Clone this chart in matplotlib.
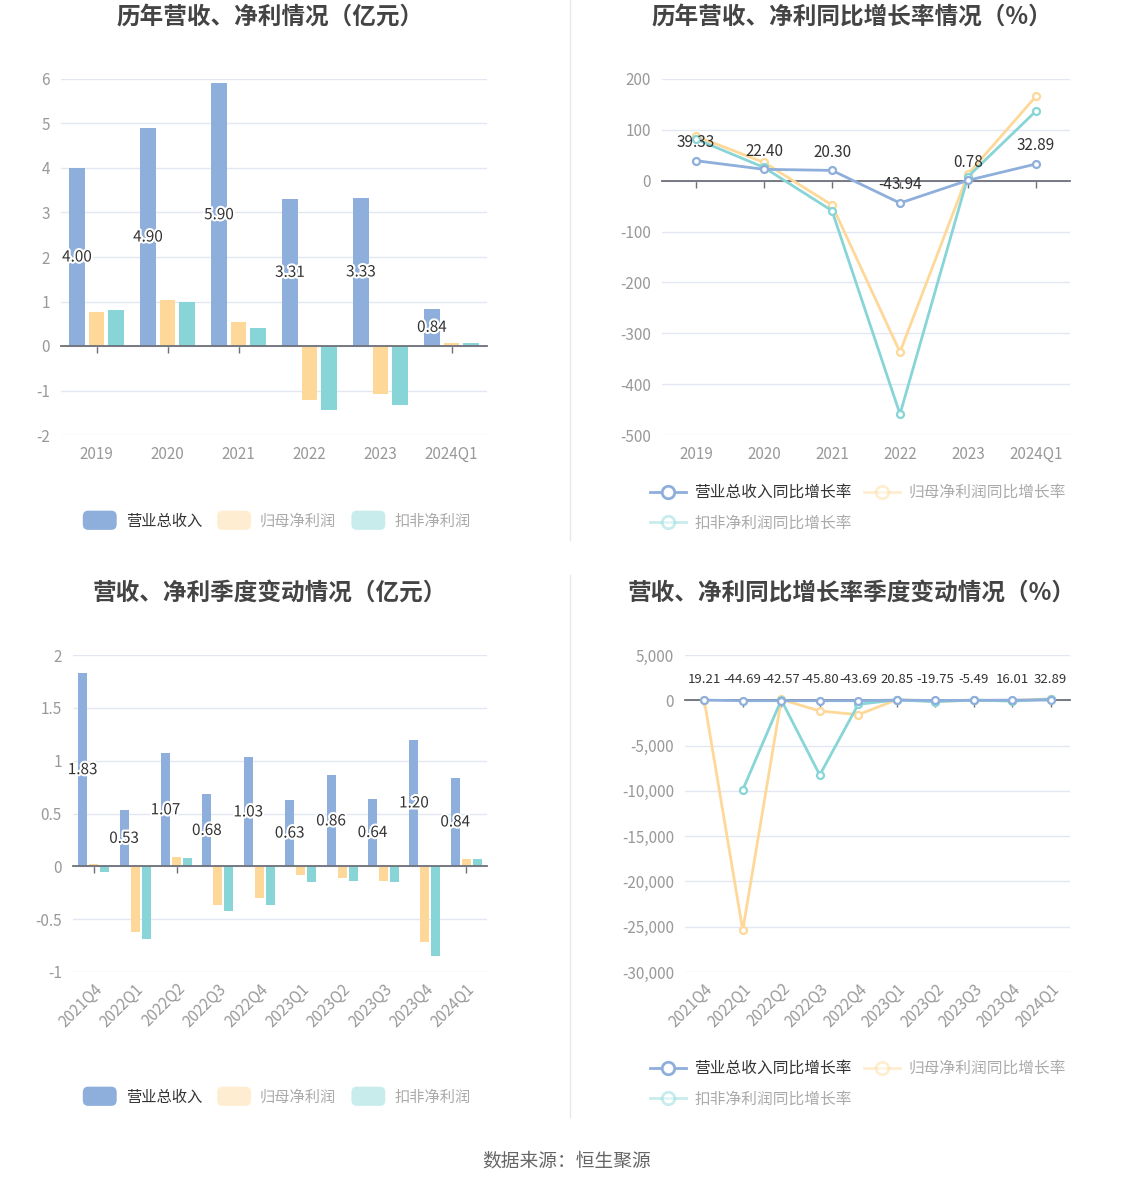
import numpy as np
import matplotlib
matplotlib.use("Agg")
import matplotlib.pyplot as plt
from matplotlib.patches import FancyBboxPatch, Patch
from matplotlib.lines import Line2D
from matplotlib.ticker import FuncFormatter
import matplotlib.patheffects as pe
from matplotlib.legend_handler import HandlerPatch

plt.rcParams['font.family'] = ['Noto Sans CJK SC', 'DejaVu Sans']
plt.rcParams['axes.unicode_minus'] = False

# ---- data ----
years = ['2019', '2020', '2021', '2022', '2023', '2024Q1']
rev_year = [4.00, 4.90, 5.90, 3.31, 3.33, 0.84]
np_year = [0.77, 1.03, 0.53, -1.22, -1.07, 0.06]
dnp_year = [0.81, 0.99, 0.41, -1.43, -1.33, 0.06]

rev_yoy = [39.33, 22.40, 20.30, -43.94, 0.78, 32.89]
np_yoy = [87.5, 36, -48, -337, 13, 166]
dnp_yoy = [82, 26, -59, -459, 8, 137]

quarters = ['2021Q4', '2022Q1', '2022Q2', '2022Q3', '2022Q4',
            '2023Q1', '2023Q2', '2023Q3', '2023Q4', '2024Q1']
rev_q = [1.83, 0.53, 1.07, 0.68, 1.03, 0.63, 0.86, 0.64, 1.20, 0.84]
np_q = [0.02, -0.62, 0.09, -0.37, -0.30, -0.08, -0.11, -0.14, -0.72, 0.066]
dnp_q = [-0.05, -0.69, 0.08, -0.42, -0.37, -0.15, -0.14, -0.15, -0.85, 0.066]

rev_q_yoy = [19.21, -44.69, -42.57, -45.80, -43.69, 20.85, -19.75, -5.49, 16.01, 32.89]
np_q_yoy = [10, -25400, 90, -1180, -1590, 60, -100, -20, -30, 166]
dnp_q_yoy = [np.nan, -9890, 40, -8250, -440, 40, -150, 30, -100, 137]

BLUE = '#8eaedb'
ORANGE = '#fed898'
TEAL = '#87d5d7'
GRID = '#e3e7f3'
AXIS = '#6e7079'
LABEL = '#999999'

W, H = 1134, 1188
fig = plt.figure(figsize=(W / 100, H / 100), dpi=100)


def add_ax(x0, y0, x1, y1):
    return fig.add_axes([x0 / W, 1 - y1 / H, (x1 - x0) / W, (y1 - y0) / H])


def style_axes(ax, cats, ylim, yticks, rotate=False, fmt=None):
    ax.set_xlim(-0.5, len(cats) - 0.5)
    ax.set_ylim(*ylim)
    ax.set_yticks(yticks)
    if fmt:
        ax.yaxis.set_major_formatter(FuncFormatter(fmt))
    ax.set_axisbelow(True)
    for s in ['top', 'right', 'left']:
        ax.spines[s].set_visible(False)
    ax.spines['bottom'].set_position(('data', 0))
    ax.spines['bottom'].set_color(AXIS)
    ax.spines['bottom'].set_linewidth(1.3)
    ax.set_xticks(range(len(cats)))
    ax.tick_params(axis='x', length=5, width=1, color=AXIS, labelbottom=False)
    ax.tick_params(axis='y', length=0, labelsize=11, labelcolor=LABEL, pad=8)
    ax.grid(axis='y', color=GRID, linewidth=1)
    sec = ax.secondary_xaxis('bottom')
    sec.spines['bottom'].set_visible(False)
    sec.set_xticks(range(len(cats)))
    if rotate:
        sec.set_xticklabels(cats, rotation=45, ha='right', rotation_mode='anchor')
        sec.tick_params(length=0, labelsize=11, labelcolor=LABEL, pad=6)
    else:
        sec.set_xticklabels(cats)
        sec.tick_params(length=0, labelsize=11, labelcolor=LABEL, pad=8)


class RoundHandler(HandlerPatch):
    def create_artists(self, legend, orig_handle, xdescent, ydescent,
                       width, height, fontsize, trans):
        p = FancyBboxPatch((-xdescent + 1, -ydescent - 2), width - 2, height + 4,
                           boxstyle='round,pad=0,rounding_size=4',
                           facecolor=orig_handle.get_facecolor(),
                           edgecolor='none', transform=trans)
        return [p]


def bar_legend(y):
    handles = [Patch(facecolor=BLUE),
               Patch(facecolor=matplotlib.colors.to_rgba(ORANGE, 0.45)),
               Patch(facecolor=matplotlib.colors.to_rgba(TEAL, 0.45))]
    leg = fig.legend(handles, ['营业总收入', '归母净利润', '扣非净利润'],
                     loc='center', bbox_to_anchor=(276 / W, 1 - y / H), ncol=3,
                     frameon=False, fontsize=11, handlelength=2.4, handleheight=1.0,
                     columnspacing=0.9, handletextpad=0.5,
                     handler_map={Patch: RoundHandler()})
    for i, t in enumerate(leg.get_texts()):
        t.set_color('#333333' if i == 0 else '#aaaaaa')


def line_legend(y):
    names = ['营业总收入同比增长率', '归母净利润同比增长率', '扣非净利润同比增长率']
    cols = [BLUE, ORANGE, TEAL]
    alphas = [1, 0.45, 0.45]
    hs = [Line2D([], [], color=c, lw=2, marker='o', markersize=9, alpha=a,
                 markerfacecolor='white', markeredgewidth=2)
          for c, a in zip(cols, alphas)]
    order = [0, 2, 1]
    leg = fig.legend([hs[i] for i in order], [names[i] for i in order],
                     loc='upper left', bbox_to_anchor=(636 / W, 1 - y / H), ncol=2,
                     frameon=False, fontsize=11.3, handlelength=2.3,
                     columnspacing=0.8, handletextpad=0.5, labelspacing=0.85)
    for t, i in zip(leg.get_texts(), order):
        t.set_color('#333333' if i == 0 else '#aaaaaa')


def outlined(ax, x, y, s):
    ax.text(x, y, s, ha='center', va='center', fontsize=11, color='#333333',
            path_effects=[pe.withStroke(linewidth=3, foreground='white')], zorder=5)


title_kw = dict(fontsize=17, fontweight='bold', color='#444444', ha='center', va='center')

# ---- top-left: annual bars ----
ax1 = add_ax(61, 79, 487, 435)
x = np.arange(len(years))
bw, off = 0.22, 0.275
ax1.bar(x - off, rev_year, bw, color=BLUE, zorder=2)
ax1.bar(x, np_year, bw, color=ORANGE, zorder=2)
ax1.bar(x + off, dnp_year, bw, color=TEAL, zorder=2)
for xi, v in zip(x, rev_year):
    outlined(ax1, xi - off, v / 2, f'{v:.2f}')
style_axes(ax1, years, (-2, 6), range(-2, 7))
fig.text(270 / W, 1 - 18 / H, '历年营收、净利情况（亿元）', **title_kw)
bar_legend(521)

# ---- top-right: annual yoy ----
ax2 = add_ax(662, 79, 1070, 435)
xx = np.arange(len(years))
for vals, c, z in [(np_yoy, ORANGE, 3), (dnp_yoy, TEAL, 4), (rev_yoy, BLUE, 5)]:
    ax2.plot(xx, vals, color=c, lw=2, marker='o', markersize=5,
             markerfacecolor='white', markeredgewidth=1.6, zorder=z)
for xi, v in zip(xx, rev_yoy):
    ax2.annotate(f'{v:.2f}', (xi, v), xytext=(0, 7), textcoords='offset points',
                 ha='center', va='bottom', fontsize=11, color='#333333', zorder=6)
style_axes(ax2, years, (-500, 200), range(-500, 201, 100))
fig.text(852 / W, 1 - 18 / H, '历年营收、净利同比增长率情况（%）', **title_kw)
line_legend(470)

# ---- bottom-left: quarterly bars ----
ax3 = add_ax(73, 655, 487, 972)
xq = np.arange(len(quarters))
bw, off = 0.22, 0.265
ax3.bar(xq - off, rev_q, bw, color=BLUE, zorder=2)
ax3.bar(xq, np_q, bw, color=ORANGE, zorder=2)
ax3.bar(xq + off, dnp_q, bw, color=TEAL, zorder=2)
for xi, v in zip(xq, rev_q):
    outlined(ax3, xi - off, v / 2, f'{v:.2f}')
style_axes(ax3, quarters, (-1, 2), [-1, -0.5, 0, 0.5, 1, 1.5, 2], rotate=True,
           fmt=lambda v, p: f'{v:g}')
fig.text(270 / W, 1 - 593 / H, '营收、净利季度变动情况（亿元）', **title_kw)
bar_legend(1097)

# ---- bottom-right: quarterly yoy ----
ax4 = add_ax(685, 655, 1070, 972)
for vals, c, z in [(np_q_yoy, ORANGE, 3), (dnp_q_yoy, TEAL, 4), (rev_q_yoy, BLUE, 5)]:
    ax4.plot(xq, vals, color=c, lw=2, marker='o', markersize=5,
             markerfacecolor='white', markeredgewidth=1.6, zorder=z)
for xi, v in zip(xq, rev_q_yoy):
    ax4.annotate(f'{v:.2f}', (xi, 0), xytext=(0, 10), textcoords='offset points',
                 ha='center', va='bottom', fontsize=9.5, color='#333333', zorder=6)
style_axes(ax4, quarters, (-30000, 5000), range(-30000, 5001, 5000), rotate=True,
           fmt=lambda v, p: f'{int(v):,}')
fig.text(852 / W, 1 - 593 / H, '营收、净利同比增长率季度变动情况（%）', **title_kw)
line_legend(1046)

# dividers and source
fig.add_artist(Line2D([570 / W, 570 / W], [1 - 0 / H, 1 - 540 / H], color='#e8e8e8', lw=1))
fig.add_artist(Line2D([570 / W, 570 / W], [1 - 575 / H, 1 - 1117 / H], color='#e8e8e8', lw=1))
fig.text(567 / W, 1 - 1161 / H, '数据来源：恒生聚源', fontsize=13.5, color='#666666',
         ha='center', va='center')

fig.savefig('out.png', dpi=100, facecolor='white')
